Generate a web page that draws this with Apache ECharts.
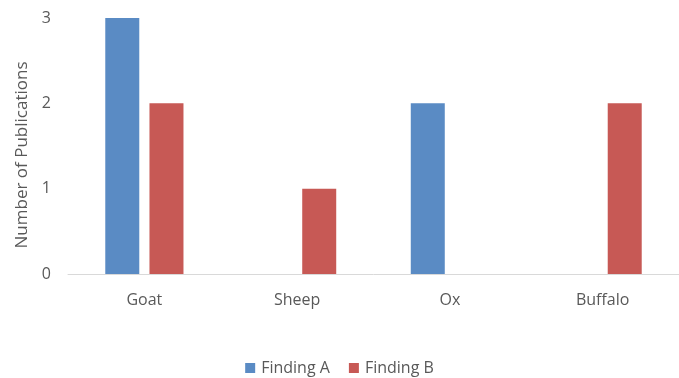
<!DOCTYPE html>
<html><head><meta charset="utf-8">
<script src="https://cdn.jsdelivr.net/npm/echarts@6/dist/echarts.min.js"></script>
<style>html,body{margin:0;padding:0;background:#fff}#c{width:679px;height:378px}</style>
</head><body><div id="c"></div>
<script>
const categories = ["Goat", "Sheep", "Ox", "Buffalo"];
const findingA = [3, 0, 2, 0];
const findingB = [2, 1, 0, 2];
const yTicks = [0, 1, 2, 3];
const seriesNames = ["Finding A", "Finding B"];
const yAxisTitle = "Number of Publications";

const chart = echarts.init(document.getElementById('c'));
const font = "'Open Sans', 'Liberation Sans', sans-serif";
chart.setOption({
  animation: false,
  textStyle: { fontFamily: font },
  grid: { left: 68, right: -1, top: 18, bottom: 104, containLabel: false },
  legend: {
    top: 355, left: 'center',
    itemWidth: 10, itemHeight: 10, itemGap: 19,
    icon: 'rect',
    textStyle: { color: '#595959', fontSize: 16, fontFamily: font, padding: [0, 0, 0, 1] },
    data: seriesNames
  },
  xAxis: {
    type: 'category', data: categories,
    axisLine: { lineStyle: { color: '#d9d9d9', width: 1 } },
    axisTick: { show: false },
    axisLabel: { color: '#595959', fontSize: 16, margin: 18, fontFamily: font }
  },
  yAxis: {
    type: 'value', min: yTicks[0], max: yTicks[yTicks.length - 1], interval: 1,
    name: yAxisTitle, nameLocation: 'middle', nameGap: 32,
    nameTextStyle: { color: '#595959', fontSize: 17, fontFamily: font, padding: [0, 18, 0, 0] },
    axisLine: { show: false }, axisTick: { show: false },
    splitLine: { show: false },
    axisLabel: { color: '#595959', fontSize: 16, margin: 17, fontFamily: font }
  },
  series: [
    { name: seriesNames[0], type: 'bar', data: findingA, barWidth: 34, barGap: '30%',
      itemStyle: { color: '#5a8bc4' } },
    { name: seriesNames[1], type: 'bar', data: findingB, barWidth: 34, barGap: '30%',
      itemStyle: { color: '#c75955' } }
  ]
});
</script></body></html>
